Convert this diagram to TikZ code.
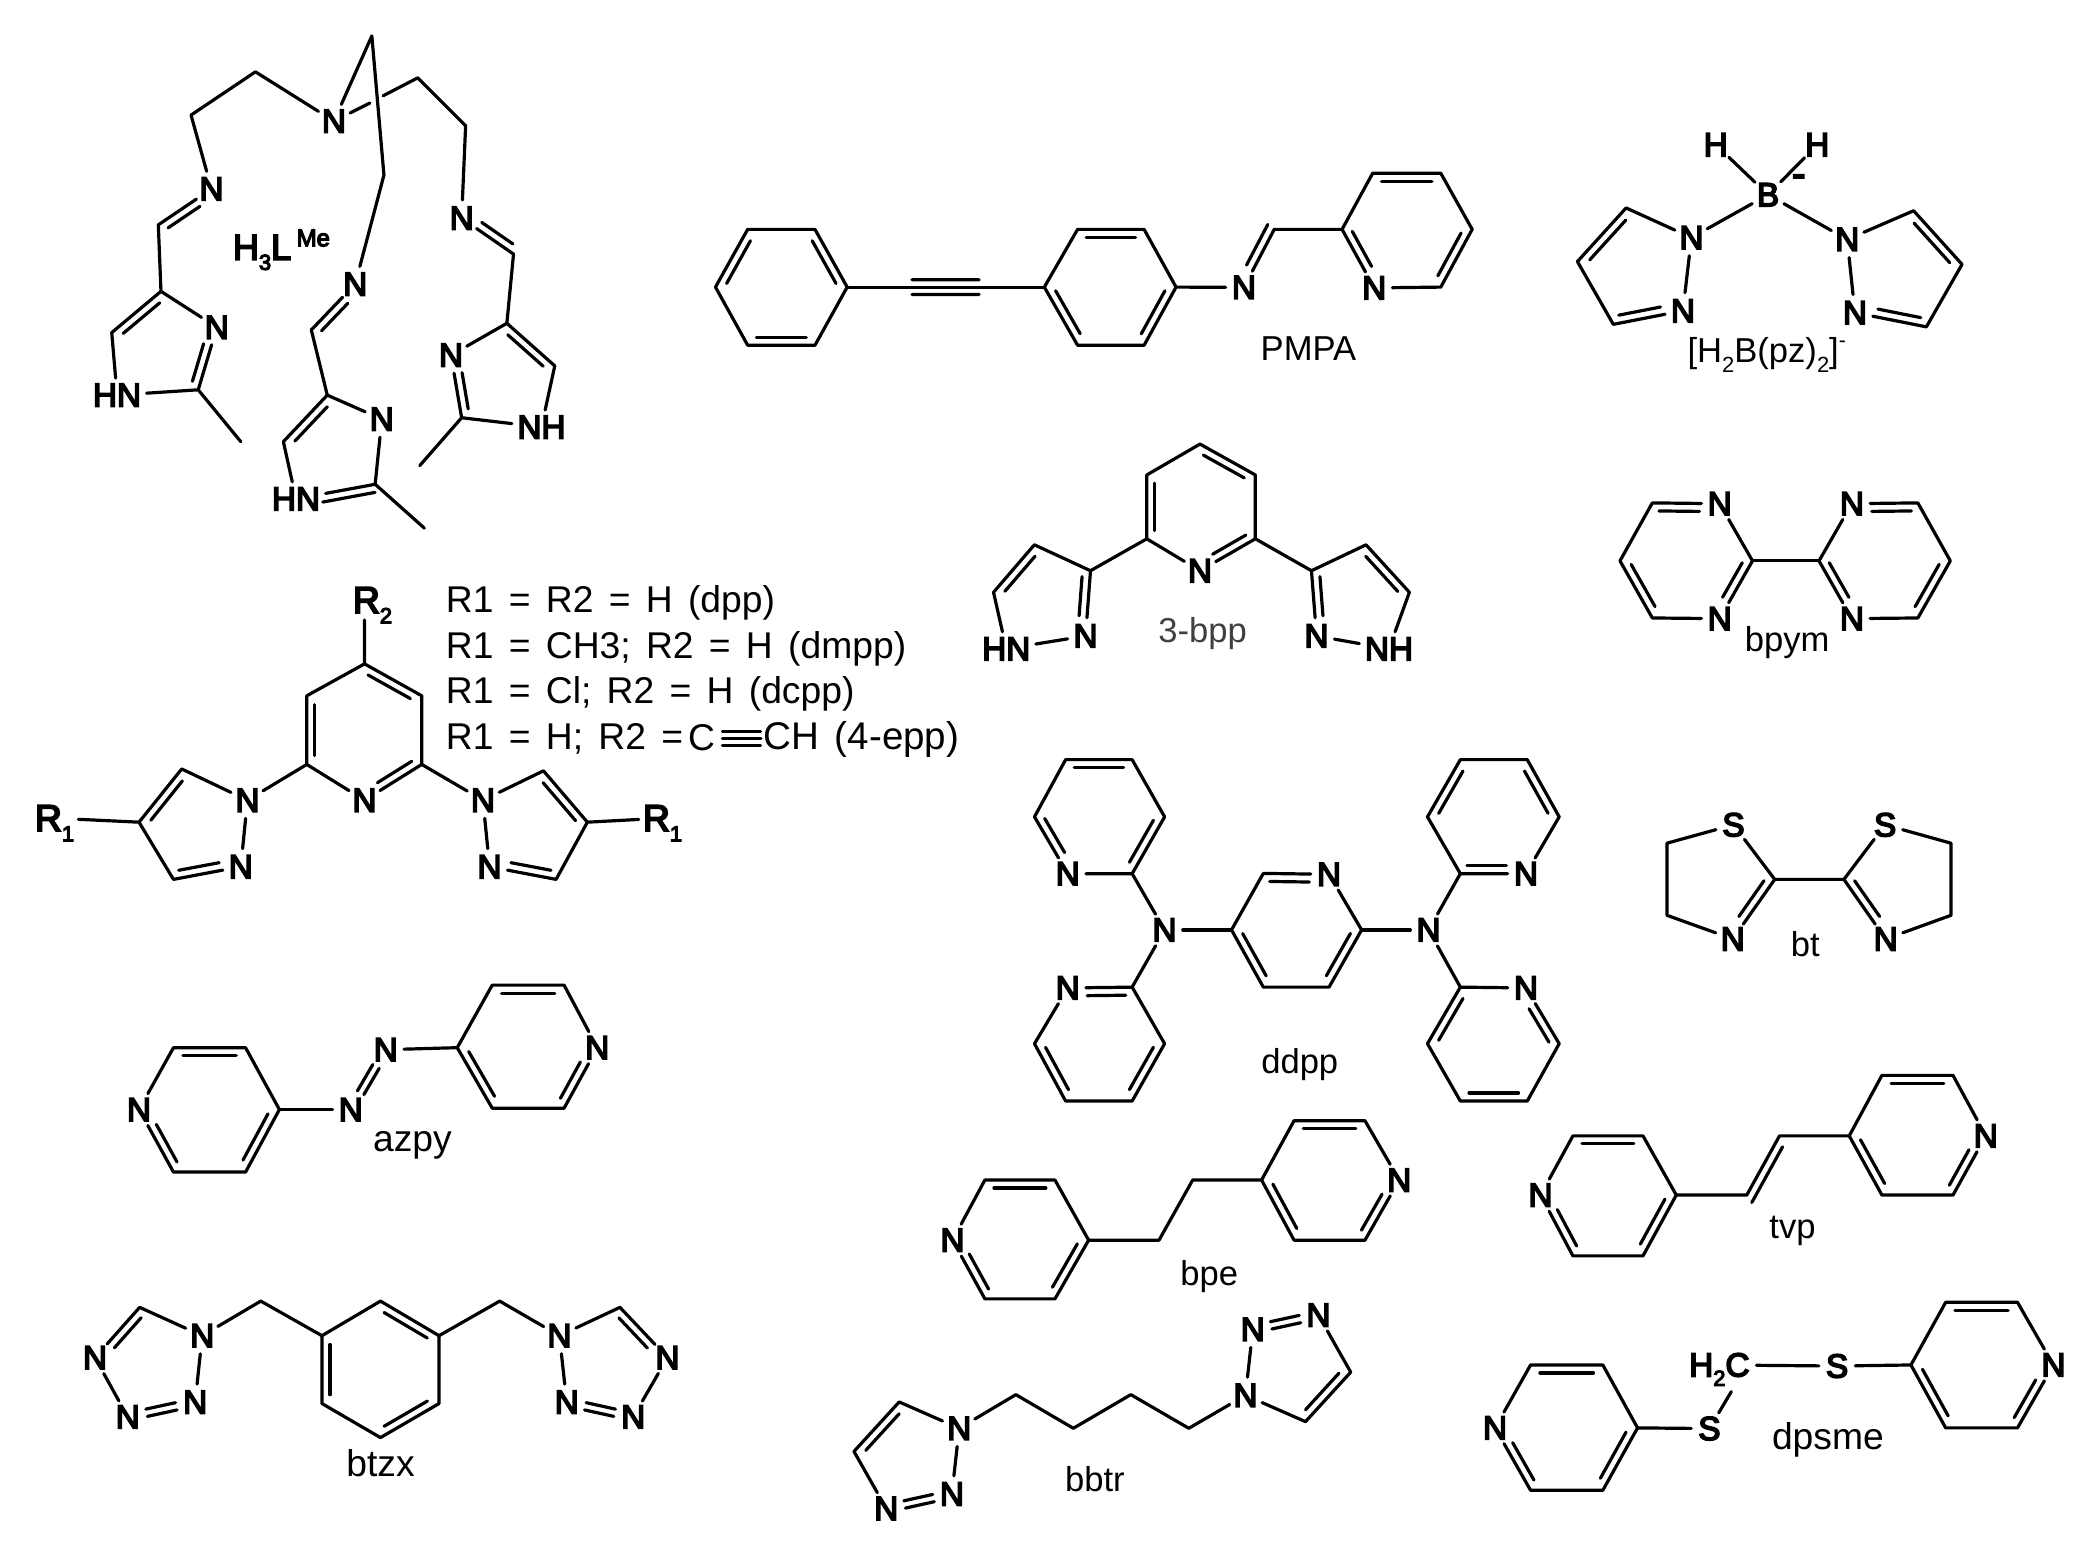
\documentclass[tikz,border=0pt]{standalone}
\usepackage{fontspec}
\usetikzlibrary{calc}
\setmainfont{Liberation Sans}
\newfontfamily\atomfam[FakeBold=5]{Liberation Sans}
\newcommand\af{\atomfam\fontsize{25}{25}\selectfont}
\newcommand\rf{\atomfam\fontsize{28}{28}\selectfont}
\newcommand\lf{\fontsize{26}{27}\selectfont}
\newcommand\sbs[1]{\smash{\raisebox{-.28em}{\fontsize{16.5}{17}\selectfont #1}}}
\tikzset{
  bond/.style={line width=2.4pt,line join=round,line cap=round,black},
  atom/.style={circle,inner sep=0pt,minimum size=27pt,font=\af},
  atomw/.style={rectangle,inner sep=4pt,font=\af},
  rlabel/.style={rectangle,inner sep=3pt,font=\rf},
  lbl/.style={inner sep=0pt,font=\lf},
  lblb/.style={inner sep=0pt,font=\fontsize{28}{29}\selectfont},
  listline/.style={inner sep=0pt,anchor=west,font=\fontsize{28}{29}\selectfont}
}
\newcommand\db[5]{\draw[bond] ($(#1)!#4!(#2)!#3pt!90:(#2)$) -- ($(#1)!#5!(#2)!#3pt!90:(#2)$);}
\newcommand\dbi[2]{\db{#1}{#2}{-6}{.13}{.87}}
\newcommand\dcn[2]{\db{#1}{#2}{-6}{.1}{.7}}
\newcommand\dnc[2]{\db{#1}{#2}{-6}{.3}{.9}}
\newcommand\dnn[2]{\db{#1}{#2}{2.8}{.28}{.72}\db{#1}{#2}{-2.8}{.28}{.72}}
\newcommand\pyL[8]{%
  \node[atom] (#1n) at (#2,#7) {N};
  \coordinate (#1a) at (#3,#6); \coordinate (#1b) at (#4,#6);
  \coordinate (#1c) at (#5,#7);
  \coordinate (#1d) at (#4,#8); \coordinate (#1e) at (#3,#8);
  \draw[bond] (#1n) -- (#1a) -- (#1b) -- (#1c) -- (#1d) -- (#1e) -- (#1n);
  \dbi{#1a}{#1b}\dbi{#1c}{#1d}\dcn{#1e}{#1n}}
\newcommand\pyR[8]{%
  \node[atom] (#1n) at (#5,#7) {N};
  \coordinate (#1c) at (#2,#7);
  \coordinate (#1a) at (#3,#6); \coordinate (#1b) at (#4,#6);
  \coordinate (#1d) at (#4,#8); \coordinate (#1e) at (#3,#8);
  \draw[bond] (#1c) -- (#1a) -- (#1b) -- (#1n) -- (#1d) -- (#1e) -- (#1c);
  \dbi{#1a}{#1b}\dnc{#1n}{#1d}\dbi{#1e}{#1c}}
\begin{document}
\begin{tikzpicture}[x=1pt,y=-1pt]
\useasboundingbox (0,0) rectangle (1568,1173.4);
\fill[white] (0,0) rectangle (1568,1173.4);

%% H3LMe
\coordinate (apex) at (279.5,27);
\node[atom] (Nc) at (251,91) {N};
\coordinate (la1) at (192,54); \coordinate (la2) at (143.6,86.5);
\node[atom] (ln) at (159,142) {N};
\coordinate (lc) at (119,169); \coordinate (lr1) at (121,219);
\node[atom] (lrn) at (163,246) {N};
\coordinate (lr2) at (149,293);
\node[atomw] (lhn) at (88,297) {HN};
\coordinate (lr3) at (84,250); \coordinate (lme) at (181,332);
\draw[bond] (Nc) -- (la1) -- (la2) -- (ln) -- (lc) -- (lr1) -- (lrn) -- (lr2) -- (lhn) -- (lr3) -- (lr1);
\draw[bond] (lr2) -- (lme);
\dcn{lc}{ln}\db{lr1}{lr3}{6}{.13}{.87}\dnc{lrn}{lr2}
\coordinate (ma1) at (288.6,131.6);
\node[atom] (mn) at (267,213.5) {N};
\coordinate (mc) at (234,248); \coordinate (mr1) at (246,297);
\node[atom] (mrn) at (287,315) {N};
\coordinate (mr2) at (282,364);
\node[atomw] (mhn) at (222.5,375) {HN};
\coordinate (mr3) at (213,332); \coordinate (mme) at (319,397);
\draw[bond] (Nc) -- (apex) -- (ma1) -- (mn) -- (mc) -- (mr1) -- (mrn) -- (mr2) -- (mhn) -- (mr3) -- (mr1);
\draw[bond] (mr2) -- (mme);
\dcn{mc}{mn}\db{mr1}{mr3}{6}{.13}{.87}\db{mr2}{mhn}{6}{.02}{.68}
\coordinate (g1) at (278,77.5); \coordinate (g2) at (288,72);
\coordinate (ra1) at (314,58.5); \coordinate (ra2) at (350,94.5);
\node[atom] (rn) at (347,164) {N};
\coordinate (rc) at (386,191); \coordinate (rr1) at (381,243);
\node[atom] (rrn) at (339,267) {N};
\coordinate (rr2) at (347,314);
\node[atomw] (rhn) at (407,321) {NH};
\coordinate (rr3) at (417,275); \coordinate (rme) at (315.5,350);
\draw[bond] (Nc) -- (g1);
\draw[bond] (g2) -- (ra1) -- (ra2) -- (rn) -- (rc) -- (rr1) -- (rrn) -- (rr2) -- (rhn) -- (rr3) -- (rr1);
\draw[bond] (rr2) -- (rme);
\dcn{rc}{rn}\dbi{rr1}{rr3}\db{rrn}{rr2}{6}{.3}{.88}
\node[atomw,inner sep=0pt,font=\atomfam\fontsize{27}{27}\selectfont] (h3l) at (197,186) {H\sbs{3}L};
\node[inner sep=0pt,font=\atomfam\fontsize{18}{18}\selectfont] (me) at (235.5,179) {Me};

%% dpp
\node[rlabel] (r2) at (280,451) {R\sbs{2}};
\coordinate (r2e) at (274,466);
\coordinate (dt) at (274,499); \coordinate (dl1) at (230.6,523); \coordinate (dr1) at (317,523);
\coordinate (dl2) at (230.6,574.6); \coordinate (dr2) at (317,574.6);
\node[atom] (dn) at (274,601.5) {N};
\draw[bond] (r2e) -- (dt) -- (dr1) -- (dr2) -- (dn) -- (dl2) -- (dl1) -- (dt);
\dbi{dt}{dr1}\dcn{dr2}{dn}\dbi{dl2}{dl1}
\node[atom] (pl1) at (186,601.5) {N};
\coordinate (pl5) at (136.6,578); \coordinate (pl4) at (104.5,618); \coordinate (pl3) at (130.4,661);
\node[atom] (pl2) at (181,651.5) {N};
\node[rlabel] (rl) at (41,615) {R\sbs{1}};
\draw[bond] (dl2) -- (pl1) -- (pl5) -- (pl4) -- (pl3) -- (pl2) -- (pl1);
\draw[bond] (pl4) -- (rl);
\dbi{pl4}{pl5}\dnc{pl2}{pl3}
\node[atom] (pr1) at (363,601.5) {N};
\coordinate (pr5) at (408.5,579.4); \coordinate (pr4) at (441.5,618); \coordinate (pr3) at (418,661);
\node[atom] (pr2) at (368,651.5) {N};
\node[rlabel] (rr) at (498,615) {R\sbs{1}};
\draw[bond] (dr2) -- (pr1) -- (pr5) -- (pr4) -- (pr3) -- (pr2) -- (pr1);
\draw[bond] (pr4) -- (rr);
\dbi{pr5}{pr4}\dcn{pr3}{pr2}
\begingroup\spaceskip=11.5pt
\node[listline] (t1) at (335,453.5) {R1 = R2 = H (dpp)};
\node[listline] (t2) at (335,487.5) {R1 = CH3; R2 = H (dmpp)};
\node[listline] (t3) at (335,521.5) {R1 = Cl; R2 = H (dcpp)};
\node[listline] (t4) at (335,555.5) {R1 = H; R2 =};
\node[listline] (t4c) at (517,554.5) {C};
\node[listline,font=\fontsize{29}{30}\selectfont] (t5) at (574,555.5) {CH (4-epp)};
\endgroup
\coordinate (tb1) at (543,555); \coordinate (tb2) at (572,555);
\draw[bond] (tb1) -- (tb2); \db{tb1}{tb2}{5.2}{0}{.99}\db{tb1}{tb2}{-5.2}{0}{.99}

%% azpy
\pyL{al}{104.5}{130.4}{184.6}{210}{787.5}{834}{881}
\pyR{ar}{343.7}{370}{424}{449}{740.5}{787.5}{833}
\node[atom] (az1) at (263.7,834) {N};
\node[atom] (az2) at (290,789) {N};
\draw[bond] (alc) -- (az1); \draw[bond] (az2) -- (arc);
\dnn{az1}{az2}
\node[lblb] (azpy) at (310,861) {azpy};

%% btzx
\coordinate (b1) at (286,978); \coordinate (b2) at (330,1004); \coordinate (b3) at (330,1055);
\coordinate (b4) at (286,1080.6); \coordinate (b5) at (242,1055); \coordinate (b6) at (242,1004);
\draw[bond] (b1) -- (b2) -- (b3) -- (b4) -- (b5) -- (b6) -- cycle;
\dbi{b1}{b2}\dbi{b3}{b4}\dbi{b5}{b6}
\coordinate (bcl) at (196,978); \coordinate (bcr) at (375.6,978);
\node[atom] (tl1) at (152,1004) {N};
\coordinate (tl5) at (105,982.7);
\node[atom] (tl4) at (71.4,1020.5) {N};
\node[atom] (tl3) at (96,1065) {N};
\node[atom] (tl2) at (146.7,1054) {N};
\draw[bond] (b6) -- (bcl) -- (tl1) -- (tl5) -- (tl4) -- (tl3);
\draw[bond] (tl1) -- (tl2);
\dnc{tl4}{tl5}\dnn{tl2}{tl3}
\node[atom] (tr1) at (420.5,1004) {N};
\coordinate (tr5) at (466,982.7);
\node[atom] (tr4) at (501.7,1020.5) {N};
\node[atom] (tr3) at (476,1065) {N};
\node[atom] (tr2) at (426,1054) {N};
\draw[bond] (b2) -- (bcr) -- (tr1) -- (tr5) -- (tr4) -- (tr3);
\draw[bond] (tr1) -- (tr2);
\dcn{tr5}{tr4}\dnn{tr2}{tr3}
\node[lblb] (btzx) at (286,1100) {btzx};

%% PMPA
\coordinate (ph1) at (537.8,215.8); \coordinate (ph2) at (562,172.4); \coordinate (ph3) at (612.6,172.4);
\coordinate (ph4) at (636.8,215.8); \coordinate (ph5) at (612.6,259.5); \coordinate (ph6) at (562,259.5);
\draw[bond] (ph1) -- (ph2) -- (ph3) -- (ph4) -- (ph5) -- (ph6) -- cycle;
\dbi{ph1}{ph2}\dbi{ph3}{ph4}\dbi{ph5}{ph6}
\coordinate (q1) at (785,215.8); \coordinate (q2) at (810,172.4); \coordinate (q3) at (860,172.4);
\coordinate (q4) at (884,215.8); \coordinate (q5) at (860,259.5); \coordinate (q6) at (810,259.5);
\draw[bond] (q1) -- (q2) -- (q3) -- (q4) -- (q5) -- (q6) -- cycle;
\dbi{q2}{q3}\dbi{q4}{q5}\dbi{q6}{q1}
\draw[bond] (ph4) -- (q1);
\coordinate (alk1) at (685.5,215.8); \coordinate (alk2) at (736.5,215.8);
\db{alk1}{alk2}{5.5}{0}{.99}\db{alk1}{alk2}{-5.5}{0}{.99}
\node[atom] (pn) at (935,216) {N};
\coordinate (pc) at (957.8,172.4);
\coordinate (py1) at (1008.8,172.4); \coordinate (py2) at (1031.8,130.2); \coordinate (py3) at (1083,130.2);
\coordinate (py4) at (1106.6,172.4); \coordinate (py5) at (1083,215.8);
\node[atom] (pyn) at (1033,216.4) {N};
\draw[bond] (q4) -- (pn) -- (pc) -- (py1) -- (py2) -- (py3) -- (py4) -- (py5) -- (pyn) -- (py1);
\db{pc}{pn}{-6}{-.02}{.68}\dbi{py2}{py3}\dbi{py4}{py5}\dnc{pyn}{py1}
\node[lbl] (pmpa) at (983.5,262.4) {PMPA};

%% 3-bpp
\coordinate (c1) at (902,333.8); \coordinate (c2) at (943.6,357); \coordinate (c3) at (943.6,405);
\coordinate (c5) at (862,405); \coordinate (c6) at (862,357);
\node[atom] (cn) at (902,429) {N};
\draw[bond] (c1) -- (c2) -- (c3) -- (cn) -- (c5) -- (c6) -- (c1);
\dbi{c1}{c2}\dcn{c3}{cn}\dbi{c5}{c6}
\coordinate (e1) at (819.7,429); \coordinate (e2) at (777.5,409.5); \coordinate (e3) at (746.8,445.2);
\node[atomw] (ehn) at (756.4,487.7) {HN};
\node[atom] (en) at (816,478) {N};
\draw[bond] (c5) -- (e1) -- (e2) -- (e3) -- (ehn) -- (en) -- (e1);
\dbi{e3}{e2}\dcn{e1}{en}
\coordinate (f1) at (985.8,429); \coordinate (f2) at (1026.8,409.5); \coordinate (f3) at (1059.4,445.2);
\node[atomw] (fhn) at (1044,487.7) {NH};
\node[atom] (fn) at (989.6,478) {N};
\draw[bond] (c3) -- (f1) -- (f2) -- (f3) -- (fhn) -- (fn) -- (f1);
\dbi{f2}{f3}\dnc{fn}{f1}
\node[lbl,text=black!75] (bpp3) at (904,476) {3-bpp};

%% H2B(pz)2
\node[atom] (hl) at (1289.7,108.8) {H};
\node[atom] (hr) at (1366,108.8) {H};
\node[atom] (bb) at (1329,146.4) {B};
\node[inner sep=0pt,font=\atomfam\fontsize{30}{30}\selectfont] (bm) at (1352,136) {-};
\draw[bond] (hl) -- (bb) -- (hr);
\node[atom] (wl1) at (1271.4,178.6) {N};
\coordinate (wl5) at (1222.3,156.3); \coordinate (wl4) at (1185.7,196.6); \coordinate (wl3) at (1212.7,243.8);
\node[atom] (wl2) at (1265,233.6) {N};
\draw[bond] (bb) -- (wl1) -- (wl2) -- (wl3) -- (wl4) -- (wl5) -- (wl1);
\dnc{wl2}{wl3}\dbi{wl4}{wl5}
\node[atom] (wr1) at (1388.5,180) {N};
\coordinate (wr5) at (1438.4,158.4); \coordinate (wr4) at (1474.8,198.7); \coordinate (wr3) at (1448,245.7);
\node[atom] (wr2) at (1394.3,235) {N};
\draw[bond] (bb) -- (wr1) -- (wr2) -- (wr3) -- (wr4) -- (wr5) -- (wr1);
\dcn{wr3}{wr2}\dbi{wr5}{wr4}
\node[lbl] (h2b) at (1328,266) {[H\sbs{2}B(pz)\sbs{2}]\raisebox{.45em}{\fontsize{16}{16}\selectfont -}};

%% bpym
\node[atom] (yl1) at (1292.6,378.6) {N};
\node[atom] (yl3) at (1292.6,465) {N};
\coordinate (yl2) at (1317.3,421.6); \coordinate (yl4) at (1242,464.5); \coordinate (yl5) at (1217.7,421.6); \coordinate (yl6) at (1242,378);
\draw[bond] (yl6) -- (yl1) -- (yl2) -- (yl3) -- (yl4) -- (yl5) -- (yl6);
\dcn{yl6}{yl1}\dcn{yl2}{yl3}\dbi{yl4}{yl5}
\node[atom] (yr1) at (1392,378.6) {N};
\node[atom] (yr3) at (1392,465) {N};
\coordinate (yr2) at (1367.3,421.6); \coordinate (yr4) at (1441.6,464.5); \coordinate (yr5) at (1466,421.6); \coordinate (yr6) at (1441.6,378);
\draw[bond] (yr6) -- (yr1) -- (yr2) -- (yr3) -- (yr4) -- (yr5) -- (yr6);
\dnc{yr1}{yr6}\dnc{yr3}{yr2}\dbi{yr5}{yr4}
\draw[bond] (yl2) -- (yr2);
\node[lbl] (bpym) at (1343.4,483) {bpym};

%% ddpp
\node[atom] (dcn) at (999,657.2) {N};
\coordinate (d1) at (949.6,656.5); \coordinate (d2) at (925.7,699); \coordinate (d3) at (949.6,742);
\coordinate (d4) at (999,742); \coordinate (d5) at (1023.5,699);
\draw[bond] (d1) -- (dcn) -- (d5) -- (d4) -- (d3) -- (d2) -- (d1);
\dcn{d1}{dcn}\dbi{d5}{d4}\dbi{d3}{d2}
\node[atom] (dln) at (875.4,699) {N};
\node[atom] (drn) at (1073.8,699) {N};
\draw[bond] (dln) -- (d2); \draw[bond] (d5) -- (drn);
\node[atom] (ua) at (802.6,656.7) {N};
\coordinate (ub) at (851,656.7); \coordinate (uc) at (875.4,614); \coordinate (ud) at (851,571);
\coordinate (ue) at (801,571); \coordinate (uf) at (777.6,614);
\draw[bond] (dln) -- (ub) -- (ua) -- (uf) -- (ue) -- (ud) -- (uc) -- (ub);
\dnc{ua}{uf}\dbi{ue}{ud}\dbi{uc}{ub}
\node[atom] (va) at (802.6,742.6) {N};
\coordinate (vb) at (851,742); \coordinate (vc) at (875.4,784.5); \coordinate (vd) at (851,827.6);
\coordinate (ve) at (801,827.6); \coordinate (vf) at (777.6,784.5);
\draw[bond] (dln) -- (vb) -- (va) -- (vf) -- (ve) -- (vd) -- (vc) -- (vb);
\dnc{va}{vb}\dbi{vc}{vd}\dbi{ve}{vf}
\node[atom] (wa) at (1147,656.7) {N};
\coordinate (wb) at (1097.7,656.7); \coordinate (wc) at (1073,614); \coordinate (wd) at (1097.7,571);
\coordinate (we) at (1148,571); \coordinate (wf) at (1172,614);
\draw[bond] (drn) -- (wb) -- (wa) -- (wf) -- (we) -- (wd) -- (wc) -- (wb);
\dnc{wa}{wb}\dbi{wc}{wd}\dbi{we}{wf}
\node[atom] (xa) at (1147,742.6) {N};
\coordinate (xb) at (1097.7,742); \coordinate (xc) at (1073,784.5); \coordinate (xd) at (1097.7,827.6);
\coordinate (xe) at (1148,827.6); \coordinate (xf) at (1172,784.5);
\draw[bond] (drn) -- (xb) -- (xa) -- (xf) -- (xe) -- (xd) -- (xc) -- (xb);
\dnc{xa}{xf}\dbi{xe}{xd}\dbi{xc}{xb}
\node[lbl] (ddpp) at (977,800) {ddpp};

%% bt
\node[atom] (sl) at (1303,620) {S};
\node[atom] (nl) at (1302.5,705.8) {N};
\node[atom] (sr) at (1417,620) {S};
\node[atom] (nr) at (1417.4,705.8) {N};
\coordinate (tcl) at (1334,661); \coordinate (tcr) at (1386,661);
\coordinate (tl6) at (1253,633.8); \coordinate (tl7) at (1253,688);
\coordinate (tr6) at (1466.5,633.8); \coordinate (tr7) at (1466.5,688);
\draw[bond] (tcr) -- (tcl) -- (sl) -- (tl6) -- (tl7) -- (nl) -- (tcl);
\draw[bond] (tcr) -- (sr) -- (tr6) -- (tr7) -- (nr) -- (tcr);
\dcn{tcl}{nl}\dnc{nr}{tcr}
\node[lbl] (bt) at (1357,710) {bt};

%% tvp
\pyL{vl}{1158}{1182.3}{1235}{1260}{853.8}{898.3}{944}
\pyR{vr}{1390}{1414.6}{1468}{1492.7}{808.3}{853.8}{898.3}
\coordinate (vc1) at (1313,898.3); \coordinate (vc2) at (1337.6,853.8);
\draw[bond] (vlc) -- (vc1) -- (vc2) -- (vrc);
\db{vc1}{vc2}{-6}{-.06}{.88}
\node[lbl] (tvp) at (1347.4,925) {tvp};

%% bpe
\pyL{el}{716}{740.3}{793}{818.3}{887}{932.2}{976.3}
\pyR{er}{948.3}{972.7}{1026}{1051.8}{842.4}{887}{932.2}
\coordinate (ec1) at (871.2,932.2); \coordinate (ec2) at (896.5,887);
\draw[bond] (elc) -- (ec1) -- (ec2) -- (erc);
\node[lbl] (bpe) at (909,959.5) {bpe};

%% bbtr
\node[atom] (kl1) at (721,1073.6) {N};
\node[atom] (kl2) at (715.5,1123) {N};
\node[atom] (kl3) at (666.2,1133.9) {N};
\coordinate (kl4) at (641.9,1091); \coordinate (kl5) at (675.9,1053.8);
\node[atom] (kr1) at (936.2,1048.8) {N};
\node[atom] (kr2) at (941.7,999.2) {N};
\node[atom] (kr3) at (991,988.5) {N};
\coordinate (kr4) at (1015.3,1031.4); \coordinate (kr5) at (981.3,1068.6);
\coordinate (k1) at (763.6,1048.3); \coordinate (k2) at (806.8,1073.6);
\coordinate (k3) at (850,1048.3); \coordinate (k4) at (893.6,1073.6);
\draw[bond] (kl1) -- (k1) -- (k2) -- (k3) -- (k4) -- (kr1);
\draw[bond] (kl2) -- (kl1) -- (kl5) -- (kl4) -- (kl3);
\draw[bond] (kr2) -- (kr1) -- (kr5) -- (kr4) -- (kr3);
\dbi{kl4}{kl5}\dbi{kr4}{kr5}\dnn{kl2}{kl3}\dnn{kr2}{kr3}
\node[lbl] (bbtr) at (823,1112) {bbtr};

%% dpsme
\pyL{sa}{1123.8}{1150.5}{1204.8}{1230.9}{1026}{1073.3}{1120.2}
\pyR{sb}{1436.4}{1462.5}{1516.5}{1543.5}{978.9}{1026}{1073.3}
\node[atom] (s1) at (1284.9,1073.8) {S};
\node[atom] (s2) at (1380.9,1026.8) {S};
\node[atomw,inner sep=5pt] (h2c) at (1292.4,1026) {H\sbs{2}C};
\coordinate (sg) at (1301.4,1046);
\draw[bond] (sac) -- (s1) -- (sg);
\draw[bond] (h2c) -- (s2) -- (sbc);
\node[lblb] (dpsme) at (1374,1082) {dpsme};
\end{tikzpicture}
\end{document}
